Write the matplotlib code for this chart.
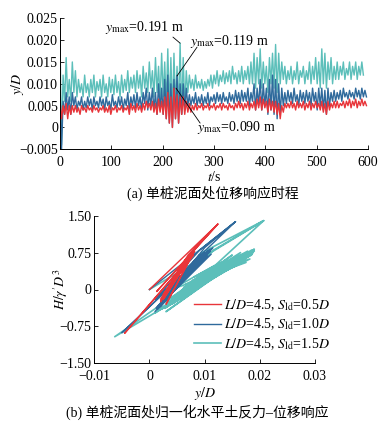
import numpy as np
import matplotlib
matplotlib.use("Agg")
import matplotlib.pyplot as plt

plt.rcParams['font.family'] = ['Liberation Serif', 'Noto Sans CJK SC', 'DejaVu Sans']
plt.rcParams['mathtext.fontset'] = 'stix'
plt.rcParams['axes.unicode_minus'] = True

nan = np.nan
# ---------------- data: (a) time histories, step 3 s ----------------
t_step = 3
teal_yD = [
    0.020, -0.004, 0.012, 0.006, 0.016, 0.007, 0.011, 0.006, 0.015, 0.008,
    0.013, 0.007, 0.011, 0.008, 0.010, 0.007, 0.012, 0.008, 0.010, 0.007,
    0.011, 0.008, 0.012, 0.007, 0.0105, 0.0085, 0.011, 0.007, 0.012, 0.008,
    0.010, 0.007, 0.0115, 0.008, 0.011, 0.0075, 0.012, 0.008, 0.0105, 0.007,
    0.012, 0.008, 0.011, 0.0085, 0.013, 0.008, 0.0115, 0.009, 0.012, 0.008,
    0.013, 0.009, 0.012, 0.007, 0.014, 0.009, 0.0125, 0.008, 0.015, 0.009,
    0.013, 0.007, 0.016, 0.008, 0.014, 0.006, 0.017, 0.007, 0.015, 0.005,
    0.018, 0.004, 0.016, 0.003, 0.017, 0.005, 0.014, 0.004, 0.0193, 0.003,
    0.016, 0.005, 0.013, 0.008, 0.012, 0.009, 0.011, 0.0085, 0.012, 0.009,
    0.0105, 0.009, 0.011, 0.0085, 0.0105, 0.009, 0.011, 0.0095, 0.012, 0.009,
    0.012, 0.010, 0.013, 0.0095, 0.012, 0.0105, 0.013, 0.010, 0.0125, 0.0105,
    0.013, 0.010, 0.014, 0.011, 0.0125, 0.010, 0.013, 0.0105, 0.014, 0.010,
    0.013, 0.011, 0.014, 0.010, 0.015, 0.010, 0.017, 0.009, 0.016, 0.010,
    0.018, 0.009, 0.015, 0.010, 0.014, 0.008, 0.016, 0.010, 0.017, 0.009,
    0.019, 0.008, 0.017, 0.010, 0.015, 0.011, 0.014, 0.010, 0.013, 0.011,
    0.014, 0.010, 0.013, 0.011, 0.015, 0.010, 0.013, 0.0115, 0.014, 0.010,
    0.013, 0.011, 0.015, 0.010, 0.014, 0.011, 0.016, 0.010, 0.015, 0.009,
    0.018, 0.010, 0.017, 0.009, 0.015, 0.011, 0.016, 0.010, 0.014, 0.011,
    0.015, 0.011, 0.014, 0.012, 0.015, 0.011, 0.0135, 0.012, 0.015, 0.011,
    0.014, 0.012, 0.015, 0.011, 0.014, 0.012, 0.015, 0.012, nan, nan,
]
blue_yD = [
    0.008, -0.005, 0.006, 0.003, 0.008, 0.004, 0.007, 0.003, 0.008, 0.005,
    0.007, 0.004, 0.006, 0.005, 0.007, 0.004, 0.006, 0.0045, 0.007, 0.005,
    0.0065, 0.004, 0.007, 0.005, 0.006, 0.0045, 0.007, 0.005, 0.0065, 0.004,
    0.007, 0.005, 0.006, 0.004, 0.0075, 0.005, 0.006, 0.0045, 0.007, 0.005,
    0.007, 0.004, 0.0065, 0.005, 0.008, 0.004, 0.007, 0.005, 0.0075, 0.0045,
    0.008, 0.005, 0.007, 0.004, 0.008, 0.0055, 0.009, 0.004, 0.008, 0.005,
    0.009, 0.004, 0.008, 0.003, 0.010, 0.004, 0.009, 0.003, 0.011, 0.002,
    0.012, 0.001, 0.010, 0.000, 0.011, 0.002, 0.0119, 0.001, 0.010, 0.003,
    0.010, 0.004, 0.009, 0.005, 0.0075, 0.005, 0.007, 0.0055, 0.008, 0.005,
    0.007, 0.0055, 0.0075, 0.005, 0.007, 0.0055, 0.008, 0.005, 0.007, 0.006,
    0.0075, 0.0055, 0.008, 0.006, 0.0075, 0.0055, 0.008, 0.006, 0.007, 0.0055,
    0.008, 0.006, 0.0075, 0.0055, 0.0085, 0.006, 0.008, 0.0055, 0.0085, 0.006,
    0.008, 0.006, 0.009, 0.005, 0.008, 0.006, 0.010, 0.004, 0.009, 0.005,
    0.011, 0.004, 0.010, 0.005, 0.009, 0.003, 0.011, 0.004, 0.012, 0.003,
    0.011, 0.002, 0.010, 0.003, 0.009, 0.005, 0.008, 0.0055, 0.0085, 0.006,
    0.008, 0.0055, 0.009, 0.006, 0.0075, 0.005, 0.0085, 0.006, 0.008, 0.0055,
    0.0085, 0.006, 0.008, 0.005, 0.009, 0.006, 0.008, 0.004, 0.009, 0.005,
    0.009, 0.004, 0.0085, 0.003, 0.009, 0.005, 0.008, 0.006, 0.0085, 0.006,
    0.008, 0.0065, 0.0085, 0.006, 0.009, 0.007, 0.008, 0.0065, 0.0085, 0.007,
    0.008, 0.0065, 0.009, 0.007, 0.0085, 0.0065, 0.009, 0.007, 0.0085, 0.007,
]
red_yD = [
    0.006, 0.002, 0.005, 0.003, 0.0055, 0.002, 0.005, 0.003, 0.005, 0.0035,
    0.005, 0.0035, 0.0045, 0.003, 0.005, 0.004, 0.0045, 0.0035, 0.005, 0.004,
    0.0045, 0.0035, 0.005, 0.004, 0.0045, 0.0035, 0.0045, 0.004, 0.005, 0.0035,
    0.0045, 0.0035, 0.005, 0.003, 0.0045, 0.004, 0.005, 0.0035, 0.0045, 0.004,
    0.005, 0.0035, 0.0045, 0.004, 0.005, 0.003, 0.0055, 0.004, 0.005, 0.0035,
    0.0055, 0.004, 0.005, 0.0035, 0.0055, 0.004, 0.006, 0.0045, 0.0055, 0.004,
    0.006, 0.0035, 0.0055, 0.003, 0.0065, 0.0035, 0.006, 0.003, 0.007, 0.002,
    0.008, 0.001, 0.007, 0.000, 0.009, 0.002, 0.0075, 0.001, 0.007, 0.003,
    0.007, 0.003, 0.006, 0.0035, 0.0055, 0.0035, 0.005, 0.004, 0.0055, 0.004,
    0.005, 0.0045, 0.0055, 0.004, 0.005, 0.0045, 0.0055, 0.004, 0.005, 0.0045,
    0.0055, 0.004, 0.005, 0.0045, 0.0055, 0.004, 0.0055, 0.0045, 0.005, 0.004,
    0.0055, 0.0045, 0.005, 0.004, 0.0055, 0.0045, 0.006, 0.0045, 0.0055, 0.004,
    0.0055, 0.0045, 0.006, 0.004, 0.0055, 0.0045, 0.006, 0.004, 0.0065, 0.0045,
    0.007, 0.004, 0.0065, 0.0045, 0.006, 0.0035, 0.0065, 0.004, 0.006, 0.0035,
    0.006, 0.003, 0.0055, 0.002, 0.005, 0.0035, 0.0055, 0.0045, 0.0055, 0.0045,
    0.006, 0.0045, 0.0055, 0.004, 0.006, 0.0045, 0.0055, 0.0045, 0.006, 0.004,
    0.0055, 0.0045, 0.006, 0.004, 0.0055, 0.0045, 0.006, 0.0045, 0.0055, 0.004,
    0.006, 0.0035, 0.0055, 0.003, 0.006, 0.004, 0.0055, 0.0045, 0.006, 0.0045,
    0.006, 0.0045, 0.0055, 0.005, 0.006, 0.0045, 0.006, 0.005, 0.0065, 0.0045,
    0.006, 0.005, 0.0065, 0.0045, 0.006, 0.005, 0.0065, 0.005, 0.006, 0.005,
]

# ---------------- data: (b) hysteresis loops ----------------
red_x = [0.0, 0.0124, 0.0013, 0.0124, 0.0070, 0.0020, 0.0080, 0.0030, 0.0075, 0.0025,
         0.0082, 0.0035, 0.0070, -0.0045, 0.0065, 0.0020, 0.0078, 0.0040, 0.0072, 0.0030,
         0.0080, 0.0045, 0.0068, 0.0025, 0.0076, 0.0035, 0.0079, 0.0028, 0.0071, 0.0040,
         0.0081, 0.0032, 0.0066, 0.0048, 0.0077, 0.0038, 0.0073]
red_H = [0.0, 1.33, -0.04, 1.33, 0.70, -0.20, 0.75, -0.30, 0.65, -0.10,
         0.78, 0.05, 0.60, -0.89, 0.55, -0.25, 0.72, 0.15, 0.68, -0.05,
         0.70, 0.25, 0.62, -0.20, 0.74, 0.00, 0.76, -0.15, 0.66, 0.20,
         0.77, -0.08, 0.58, 0.30, 0.71, 0.10, 0.67]

blue_x = [0.0, 0.0156, 0.0091, 0.0010, 0.0110, 0.0020, 0.0100, 0.0030, 0.0115, 0.0015,
          0.0095, -0.0050, 0.0105, 0.0040, 0.0112, 0.0025, 0.0090, 0.0050, 0.0108, 0.0010,
          0.0085, 0.0035, 0.0100, 0.0060, 0.0156, 0.0100, 0.0030, 0.0095, 0.0045, 0.0105,
          0.0020, 0.0113, 0.0055, 0.0098, 0.0012, 0.0088, 0.0038, 0.0110, 0.0065, 0.0103,
          0.0028, 0.0092, 0.0050, 0.0107, 0.0018, 0.0096]
blue_H = [0.0, 1.38, 0.80, -0.20, 0.82, -0.35, 0.75, -0.10, 0.85, -0.40,
          0.65, -0.88, 0.78, 0.05, 0.72, -0.25, 0.70, 0.20, 0.80, -0.45,
          0.55, 0.00, 0.70, 0.35, 1.38, 0.85, -0.15, 0.60, 0.15, 0.68,
          -0.30, 0.83, 0.25, 0.74, -0.38, 0.58, -0.05, 0.77, 0.40, 0.66,
          -0.22, 0.62, 0.10, 0.79, -0.32, 0.71]

teal_x = [0.0, 0.0207, 0.0116, 0.0020, 0.0185, 0.0030, 0.0175, 0.0050, 0.0190, 0.0010,
          0.0160, 0.0060, 0.0188, 0.0040, 0.0170, -0.0063, 0.0150, 0.0070, 0.0180, 0.0030,
          0.0165, 0.0080, 0.0185, 0.0045, 0.0155, 0.0020, 0.0178, 0.0065, 0.0160, 0.0090,
          0.0190, 0.0050, 0.0140, 0.0035, 0.0170, 0.0100, 0.0182, 0.0060, 0.0150, 0.0025,
          0.0130, 0.0080, 0.0175, 0.0040, 0.0120, 0.0207, 0.0095, 0.0015, 0.0186, 0.0055,
          0.0168, 0.0075, 0.0189, 0.0035, 0.0158, 0.0085, 0.0180, 0.0045, 0.0145, 0.0065,
          0.0172, 0.0028, 0.0187, 0.0105, 0.0162, 0.0058, 0.0183, 0.0022, 0.0152, 0.0072,
          0.0176, 0.0042, 0.0165, 0.0095, 0.0188, 0.0052, 0.0138, 0.0032, 0.0179, 0.0068,
          0.0156, 0.0048, 0.0184, 0.0078, 0.0169, 0.0038, 0.0148, 0.0088, 0.0186, 0.0062,
          0.0174]
teal_H = [0.0, 1.40, 0.80, -0.30, 0.80, -0.45, 0.70, -0.20, 0.82, -0.48,
          0.65, 0.00, 0.75, -0.30, 0.60, -0.96, 0.70, 0.05, 0.68, -0.35,
          0.75, 0.15, 0.70, -0.15, 0.55, -0.40, 0.78, 0.10, 0.50, 0.30,
          0.78, -0.10, 0.60, -0.25, 0.72, 0.35, 0.62, -0.05, 0.45, -0.35,
          0.55, 0.25, 0.55, 0.00, 0.50, 1.40, 0.75, -0.42, 0.72, -0.12,
          0.66, 0.08, 0.80, -0.28, 0.58, 0.20, 0.74, -0.18, 0.52, 0.02,
          0.69, -0.38, 0.77, 0.32, 0.61, -0.02, 0.73, -0.40, 0.63, 0.12,
          0.70, -0.22, 0.57, 0.28, 0.79, -0.08, 0.54, -0.32, 0.67, 0.06,
          0.64, -0.14, 0.76, 0.18, 0.71, -0.26, 0.59, 0.24, 0.74, 0.04,
          0.68]

labels = [r"$L/D$=4.5, $S_{\rm ld}$=0.5$D$",
          r"$L/D$=4.5, $S_{\rm ld}$=1.0$D$",
          r"$L/D$=4.5, $S_{\rm ld}$=1.5$D$"]
c_red, c_blue, c_teal = "#e8353a", "#2f6a9c", "#5cbfba"

W, H = 387, 421
fig = plt.figure(figsize=(W / 100, H / 100), dpi=100)
fs = 10

# ---------------- (a) ----------------
ax1 = fig.add_axes([60 / W, 1 - 149.3 / H, 308 / W, 131 / H])
t = np.arange(len(teal_yD)) * t_step
ax1.plot(t, teal_yD, color=c_teal, lw=1.0)
ax1.plot(t, blue_yD, color=c_blue, lw=1.0)
ax1.plot(t, red_yD, color=c_red, lw=1.0)
ax1.set_xlim(0, 600)
ax1.set_ylim(-0.005, 0.025)
ax1.set_xticks([0, 100, 200, 300, 400, 500, 600])
ax1.set_yticks([-0.005, 0, 0.005, 0.010, 0.015, 0.020, 0.025])
ax1.set_yticklabels(["\u22120.005", "0", "0.005", "0.010", "0.015", "0.020", "0.025"])
for s in ("top", "right"):
    ax1.spines[s].set_visible(False)
for s in ("left", "bottom"):
    ax1.spines[s].set_linewidth(0.7)
ax1.tick_params(direction="in", length=3, width=0.6, labelsize=fs)
ax1.tick_params(axis="x", pad=4.5)
ax1.tick_params(axis="y", pad=1.5)
ax1.set_xlabel(r"$t$/s", fontsize=fs)
ax1.set_ylabel(r"$y/D$", fontsize=fs)
ax1.xaxis.set_label_coords(0.5, -0.16)
ax1.yaxis.set_label_coords(-0.11, 0.5)

ann = dict(arrowprops=dict(arrowstyle="-", color="black", lw=0.6, shrinkA=0, shrinkB=0))
ax1.annotate("", xy=(234, 0.0193), xytext=(220, 0.0207), **ann)
ax1.text(165, 0.0228, r"$y_{\rm max}$=0.191 m", fontsize=fs, ha="center", va="center")
ax1.annotate("", xy=(228, 0.0118), xytext=(267, 0.0184), **ann)
ax1.text(331, 0.0196, r"$y_{\rm max}$=0.119 m", fontsize=fs, ha="center", va="center")
ax1.annotate("", xy=(226, 0.0090), xytext=(273, 0.0010), **ann)
ax1.text(344, 0.0001, r"$y_{\rm max}$=0.090 m", fontsize=fs, ha="center", va="center")

fig.text(213 / W, 1 - 193 / H, "(a) 单桩泥面处位移响应时程", fontsize=fs, ha="center", va="center")

# ---------------- (b) ----------------
ax2 = fig.add_axes([94.3 / W, 1 - 363.3 / H, 220.7 / W, 147.6 / H])
ax2.plot(teal_x, teal_H, color=c_teal, lw=1.2, label=labels[2])
ax2.plot(blue_x, blue_H, color=c_blue, lw=1.0, label=labels[1])
ax2.plot(red_x, red_H, color=c_red, lw=1.0, label=labels[0])
ax2.set_xlim(-0.01, 0.03)
ax2.set_ylim(-1.5, 1.5)
ax2.set_xticks([-0.01, 0, 0.01, 0.02, 0.03])
ax2.set_xticklabels(["\u22120.01", "0", "0.01", "0.02", "0.03"])
ax2.set_yticks([-1.5, -0.75, 0, 0.75, 1.5])
ax2.set_yticklabels(["\u22121.50", "\u22120.75", "0", "0.75", "1.50"])
for s in ("top", "right"):
    ax2.spines[s].set_visible(False)
for s in ("left", "bottom"):
    ax2.spines[s].set_linewidth(0.7)
ax2.tick_params(direction="in", length=3, width=0.6, labelsize=fs)
ax2.tick_params(axis="x", pad=5)
ax2.tick_params(axis="y", pad=2)
ax2.set_xlabel(r"$y/D$", fontsize=fs)
ax2.set_ylabel(r"$H/\gamma'D^3$", fontsize=fs)
ax2.xaxis.set_label_coords(0.5, -0.15)
ax2.yaxis.set_label_coords(-0.11, 0.5)
hs, ls = ax2.get_legend_handles_labels()
ax2.legend(hs[::-1], ls[::-1], loc="lower right", bbox_to_anchor=(1.068, 0.078),
           frameon=False, fontsize=fs, handlelength=1.9, handletextpad=0.25,
           labelspacing=0.28, borderaxespad=0, borderpad=0)

fig.text(197 / W, 1 - 412 / H, "(b) 单桩泥面处归一化水平土反力–位移响应", fontsize=fs, ha="center", va="center")

fig.savefig("out.png", dpi=100)
